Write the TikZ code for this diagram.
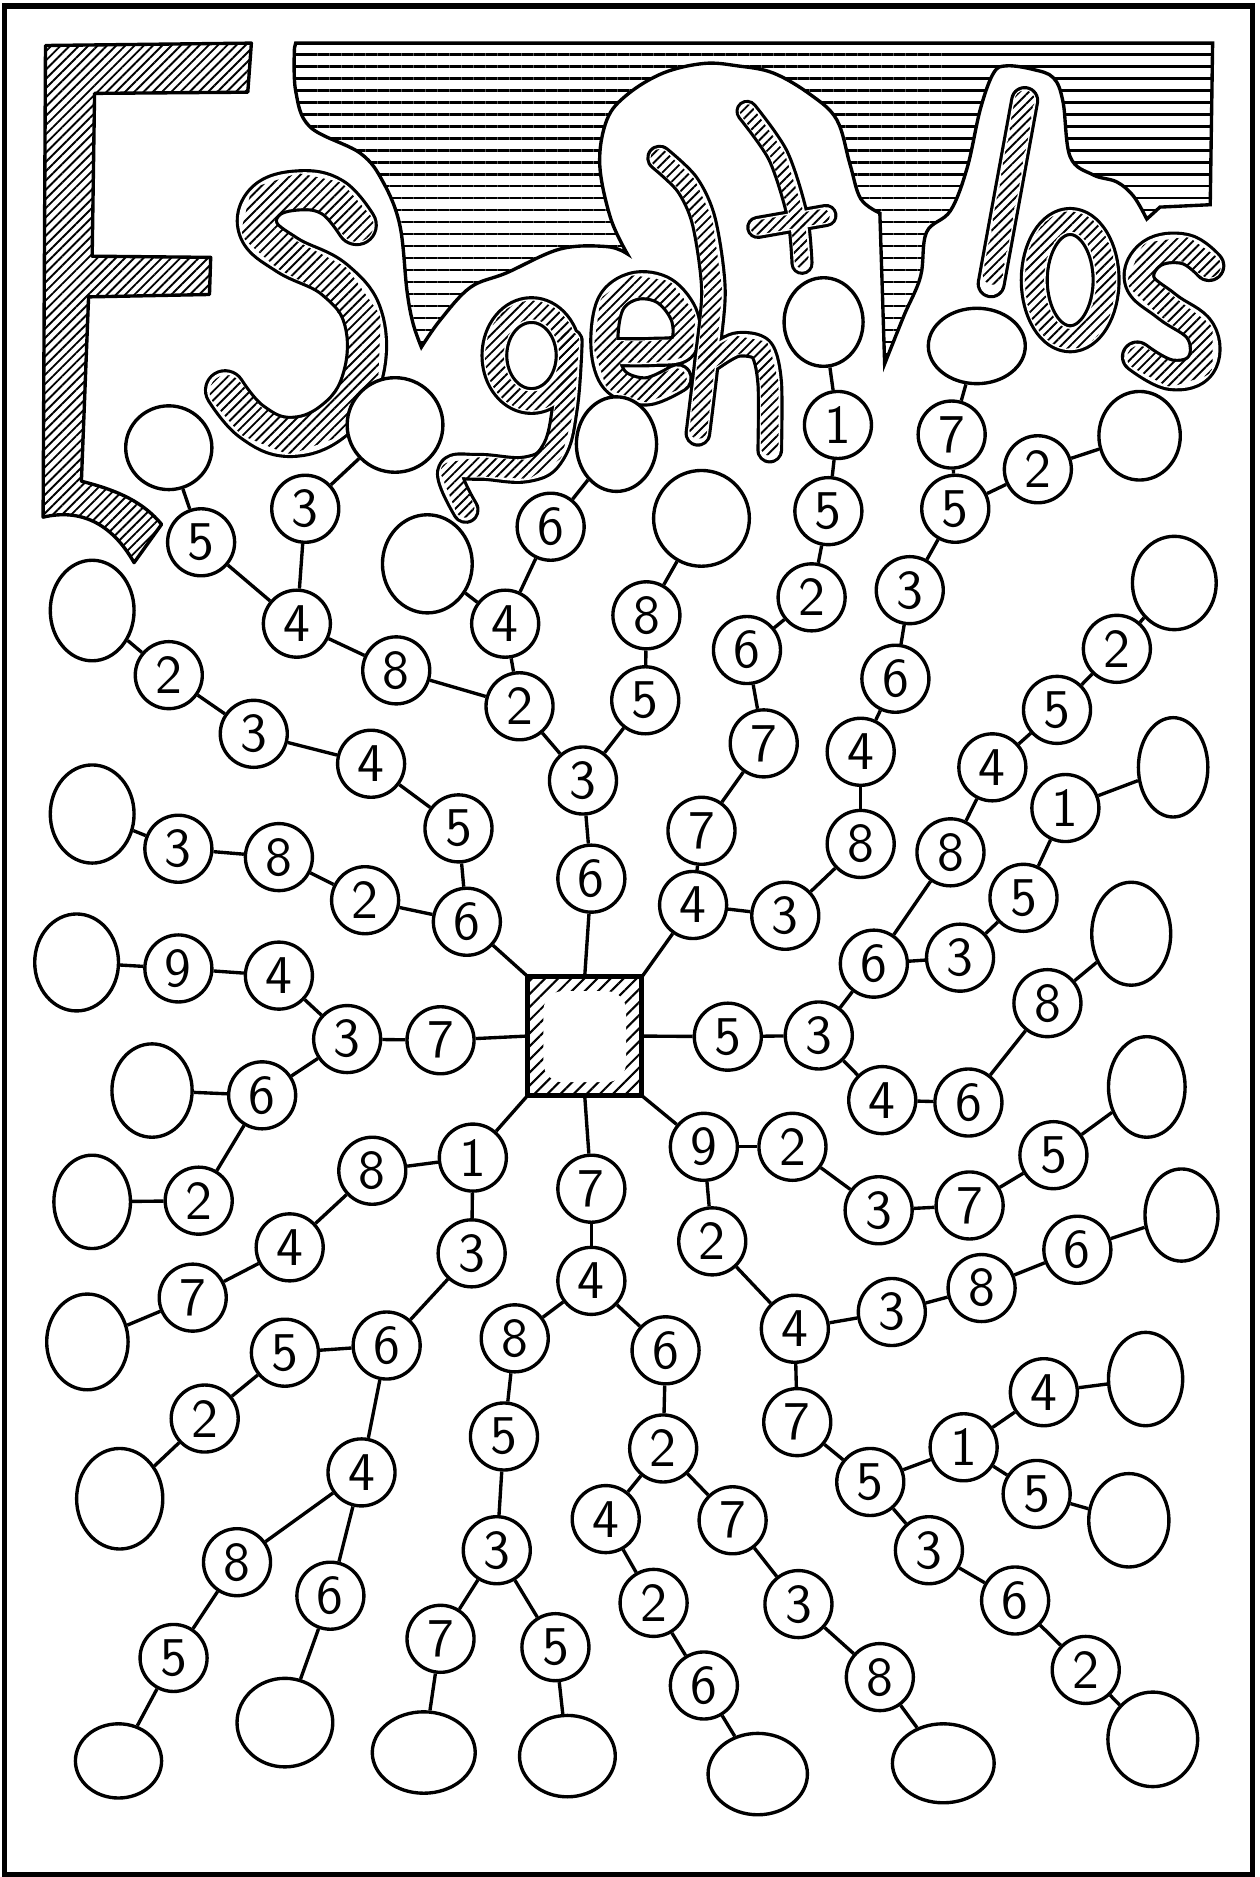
\documentclass[tikz,border=0pt]{standalone}
\usetikzlibrary{shapes.geometric, patterns.meta, calc}
% outline of the striped band behind the title
\newcommand{\bandoutline}{(247,36) -- plot[smooth, tension=0.6] coordinates {(246,40) (247,76) (259,106) (301,128) (320,152) (334,188) (340,243) (345,270) (352,290)}
  -- plot[smooth, tension=0.6] coordinates {(352,290) (368,267) (393,240) (423,228) (468,208) (507,206) (524,212)}
  -- plot[smooth, tension=0.6] coordinates {(524,212) (510,182) (501,137) (507,100) (524,79) (554,61) (588,53) (616,55) (646,61) (677,79) (699,100) (710,137) (719,166) (735,178)}
  -- plot[smooth, tension=0.6] coordinates {(735,178) (737,240) (739,304)}
  -- plot[smooth, tension=0.6] coordinates {(739,304) (755,264) (769,231) (774,194) (794,176) (808,140) (819,91) (830,61) (841,55) (863,58) (880,65) (888,85) (894,131) (913,146) (933,152) (947,164) (958,183)}
  -- (969,173) -- (1011,171) -- (1013,36) -- cycle}
% hatching inside a letter stroke: clip to discs along its centre line
\newcommand{\tubehatch}[4]{%
  \begin{scope}
    \clip foreach \x/\y [remember=\x as \lx (initially #2), remember=\y as \ly (initially #3)] in {#4}
      {foreach \t in {0,0.05,...,1} {($(\lx,\ly)!\t!(\x,\y)$) circle [radius=#1]}};
    \fill[letterhatch] (0,0) rectangle (1052,480);
  \end{scope}}
\newcommand{\ringhatch}[5]{%
  \begin{scope}
    \clip foreach \a in {0,8,...,352} {({#2+#4*cos(\a)},{#3+#5*sin(\a)}) circle [radius=#1]};
    \fill[letterhatch] (0,0) rectangle (1052,480);
  \end{scope}}
\begin{document}
\begin{tikzpicture}[x=0.1mm, y=-0.1mm,
  num/.style={circle, draw, fill=white, line width=0.8pt, minimum size=5.6mm,
              inner sep=0pt, font=\sffamily\fontsize{13}{15}\selectfont},
  leaf/.style 2 args={ellipse, draw, fill=white, line width=0.8pt,
              minimum width=#1*0.1mm, minimum height=#2*0.1mm, inner sep=0pt},
  hub/.style={rectangle, draw, line width=1.2pt, minimum width=9.5mm, minimum height=9.9mm,
              pattern={Lines[angle=45, distance=2.2pt, line width=0.5pt]}},
  link/.style={line width=0.8pt},
  band/.style={line width=0.8pt, pattern={Lines[angle=0, distance=2.85pt, line width=0.55pt]}},
  letterhatch/.style={pattern={Lines[angle=45, distance=1.55pt, line width=0.45pt]}},
  hatchfill/.style={draw, line width=0.8pt, line join=round, letterhatch},
  letter/.style={draw=white, line width=#1*0.1mm, line cap=round, line join=round,
              preaction={draw=black, line width=#1*0.1mm+1.5pt, line cap=round, line join=round}}
]
\useasboundingbox (0,0) rectangle (1052,1568);
% ----- frame -----
\draw[line width=1.2pt] (4,5) rectangle (1046,1566);
% ----- title -----
\draw[band] \bandoutline;
\draw[hatchfill] (38,38) -- (210,36) -- (207,77) -- (79,78) -- (77,214) -- (176,215)
  -- (175,246) -- (74,248) -- (68,402) .. controls (100,410) and (120,420) .. (135,438)
  -- (112,470) .. controls (95,440) and (70,424) .. (36,432) -- cycle;
% S
\draw[letter=30] plot[smooth, tension=0.7] coordinates {(298,188) (278,165) (250,159) (222,168)
  (216,192) (240,213) (280,234) (304,268) (302,318) (278,352) (242,365) (210,352) (188,326)};
\tubehatch{14}{298}{188}{278/165, 250/159, 222/168, 216/192, 240/213, 280/234, 304/268,
  302/318, 278/352, 242/365, 210/352, 188/326}
% g
\draw[letter=18] (444,297) ellipse [x radius=31, y radius=38]
  plot[smooth, tension=0.7] coordinates {(476,285) (472,340) (462,378) (440,392) (400,390) (376,394) (389,426)};
\ringhatch{8}{444}{297}{31}{38}
\tubehatch{8}{476}{285}{472/340, 462/378, 440/392, 400/390, 376/394, 389/426}
% e
\draw[letter=20] plot[smooth, tension=0.6] coordinates {(510,294) (545,294) (570,290) (572,265)
  (555,243) (530,239) (510,254) (505,290) (514,318) (540,327) (566,316)};
\tubehatch{9}{510}{294}{545/294, 570/290, 572/265, 555/243, 530/239, 510/254, 505/290,
  514/318, 540/327, 566/316}
% h
\draw[letter=17] plot[smooth] coordinates {(551,132) (574,154) (588,185) (596,243) (590,304) (583,362)}
  plot[smooth] coordinates {(594,300) (615,288) (636,292) (643,320) (643,376)};
\tubehatch{7.5}{551}{132}{574/154, 588/185, 596/243, 590/304, 583/362}
\tubehatch{7.5}{594}{300}{615/288, 636/292, 643/320, 643/376}
% t
\draw[letter=14] plot[smooth] coordinates {(624,93) (650,130) (666,180) (670,220)} (633,190) -- (690,180);
\tubehatch{6}{624}{93}{650/130, 666/180, 670/220}
\tubehatch{6}{633}{190}{690/180}
% l
\draw[letter=19] (856,84) -- (828,237);
\tubehatch{8.5}{856}{84}{828/237}
% o
\draw[letter=19] (894,234) ellipse [x radius=30, y radius=49];
\ringhatch{8.5}{894}{234}{30}{49}
% s
\draw[letter=22] plot[smooth, tension=0.7] coordinates {(1010,222) (990,208) (962,212) (952,235)
  (975,256) (1003,277) (1003,305) (978,313) (950,298)};
\tubehatch{10}{1010}{222}{990/208, 962/212, 952/235, 975/256, 1003/277, 1003/305, 978/313, 950/298}
% ----- hub -----
\node[hub] (hub) at (488.5,865.5) {};
\fill[white, rounded corners=1.6mm] (454,828) rectangle (523,904);
% ----- branch up -----
\node[num] (u1) at (494,734) {6};
\node[num] (u2) at (487,652) {3};
\node[num] (u3) at (434,590) {2};
\node[num] (u4) at (539,585) {5};
\node[num] (u5) at (540,514) {8};
\node[leaf={80}{80}] (lu1) at (586,433) {};
\node[num] (u6) at (422,521) {4};
\node[num] (u7) at (460,440) {6};
\node[leaf={67}{79}] (lu2) at (515,371) {};
\node[leaf={75}{82}] (lu3) at (357,471) {};
\node[num] (u8) at (331,560) {8};
\node[num] (u9) at (248,521) {4};
\node[num] (u10) at (255,425) {3};
\node[leaf={80}{79}] (lu4) at (330,355) {};
\node[num] (u11) at (168,453) {5};
\node[leaf={72}{70}] (lu5) at (141,374) {};
% ----- branch upper left -----
\node[num] (a1) at (390,770) {6};
\node[num] (a2) at (383,692) {5};
\node[num] (a3) at (310,638) {4};
\node[num] (a4) at (212,613) {3};
\node[num] (a5) at (141,564) {2};
\node[leaf={70}{84}] (la1) at (77,510) {};
\node[num] (a6) at (305,752) {2};
\node[num] (a7) at (233,716) {8};
\node[num] (a8) at (149,709) {3};
\node[leaf={70}{82}] (la2) at (77,680) {};
% ----- branch left -----
\node[num] (b1) at (368,869) {7};
\node[num] (b2) at (290,868) {3};
\node[num] (b3) at (233,815) {4};
\node[num] (b4) at (149,809) {9};
\node[leaf={70}{81}] (lb1) at (64,804) {};
\node[num] (b5) at (219,915) {6};
\node[leaf={67}{78}] (lb2) at (127,911) {};
\node[num] (b6) at (166,1003) {2};
\node[leaf={64}{78}] (lb3) at (77,1004) {};
% ----- branch lower left -----
\node[num] (d1) at (395,967) {1};
\node[num] (d2) at (311,978) {8};
\node[num] (d3) at (242,1042) {4};
\node[num] (d4) at (161,1084) {7};
\node[leaf={68}{80}] (ld1) at (73,1121) {};
\node[num] (d5) at (394,1047) {3};
\node[num] (d6) at (323,1124) {6};
\node[num] (d7) at (238,1130) {5};
\node[num] (d8) at (171,1185) {2};
\node[leaf={72}{84}] (ld2) at (100,1252) {};
\node[num] (d9) at (302,1230) {4};
\node[num] (d10) at (198,1305) {8};
\node[num] (d11) at (145,1385) {5};
\node[leaf={72}{62}] (ld3) at (99,1471) {};
\node[num] (d12) at (276,1333) {6};
\node[leaf={80}{74}] (ld4) at (238,1439) {};
% ----- branch down -----
\node[num] (e1) at (494,993) {7};
\node[num] (e2) at (494,1070) {4};
\node[num] (e3) at (430,1118) {8};
\node[num] (e4) at (421,1200) {5};
\node[num] (e5) at (415,1295) {3};
\node[num] (e6) at (368,1369) {7};
\node[leaf={86}{68}] (le1) at (354,1464) {};
\node[num] (e7) at (464,1376) {5};
\node[leaf={80}{68}] (le2) at (474,1467) {};
\node[num] (e8) at (556,1128) {6};
\node[num] (e9) at (554,1210) {2};
\node[num] (e10) at (506,1269) {4};
\node[num] (e11) at (546,1339) {2};
\node[num] (e12) at (588,1408) {6};
\node[leaf={83}{68}] (le3) at (633,1482) {};
\node[num] (e13) at (612,1270) {7};
\node[num] (e14) at (667,1340) {3};
\node[num] (e15) at (735,1401) {8};
\node[leaf={85}{66}] (le4) at (788,1473) {};
% ----- branch lower right -----
\node[num] (f1) at (588,958) {9};
\node[num] (f2) at (662,958) {2};
\node[num] (f3) at (734,1011) {3};
\node[num] (f4) at (810,1007) {7};
\node[num] (f5) at (880,965) {5};
\node[leaf={64}{84}] (lf1) at (958,908) {};
\node[num] (f6) at (595,1037) {2};
\node[num] (f7) at (664,1110) {4};
\node[num] (f8) at (745,1096) {3};
\node[num] (f9) at (820,1076) {8};
\node[num] (f10) at (900,1044) {6};
\node[leaf={61}{77}] (lf2) at (987,1015) {};
\node[num] (f11) at (666,1188) {7};
\node[num] (f12) at (727,1238) {5};
\node[num] (f13) at (805,1209) {1};
\node[num] (f14) at (872,1163) {4};
\node[leaf={62}{78}] (lf3) at (957,1152) {};
\node[num] (f15) at (866,1248) {5};
\node[leaf={67}{78}] (lf4) at (943,1270) {};
\node[num] (f16) at (776,1295) {3};
\node[num] (f17) at (848,1337) {6};
\node[num] (f18) at (907,1395) {2};
\node[leaf={75}{79}] (lf5) at (963,1453) {};
% ----- branch right -----
\node[num] (r1) at (608,866) {5};
\node[num] (r2) at (684,865) {3};
\node[num] (r3) at (730,805) {6};
\node[num] (r4) at (802,800) {3};
\node[num] (r5) at (855,750) {5};
\node[num] (r6) at (890,675) {1};
\node[leaf={58}{83}] (lr1) at (980,641) {};
\node[num] (r7) at (794,712) {8};
\node[num] (r8) at (829,641) {4};
\node[num] (r9) at (883,593) {5};
\node[num] (r10) at (933,542) {2};
\node[leaf={70}{78}] (lr2) at (981,487) {};
\node[num] (r11) at (737,919) {4};
\node[num] (r12) at (809,921) {6};
\node[num] (r13) at (875,838) {8};
\node[leaf={66}{86}] (lr3) at (945,780) {};
% ----- branch upper right -----
\node[num] (g1) at (579,756) {4};
\node[num] (g2) at (586,694) {7};
\node[num] (g3) at (638,621) {7};
\node[num] (g4) at (624,543) {6};
\node[num] (g5) at (678,499) {2};
\node[num] (g6) at (692,427) {5};
\node[num] (g7) at (700,355) {1};
\node[leaf={66}{74}] (lg1) at (688,269) {};
\node[num] (g8) at (656,765) {3};
\node[num] (g9) at (719,705) {8};
\node[num] (g10) at (719,628) {4};
\node[num] (g11) at (748,567) {6};
\node[num] (g12) at (760,493) {3};
\node[num] (g13) at (798,425) {5};
\node[num] (g14) at (795,363) {7};
\node[leaf={81}{63}] (lg2) at (816,289) {};
\node[num] (g15) at (867,392) {2};
\node[leaf={68}{74}] (lg3) at (952,364) {};
% ----- connectors -----
\foreach \a/\b in {hub.north/u1, u1/u2, u2/u3, u2/u4, u4/u5, u5/lu1, u3/u6, u6/u7, u7/lu2,
    u6/lu3, u3/u8, u8/u9, u9/u10, u10/lu4, u9/u11, u11/lu5,
    hub.north west/a1, a1/a2, a2/a3, a3/a4, a4/a5, a5/la1, a1/a6, a6/a7, a7/a8, a8/la2,
    hub.west/b1, b1/b2, b2/b3, b3/b4, b4/lb1, b2/b5, b5/lb2, b5/b6, b6/lb3,
    hub.south west/d1, d1/d2, d2/d3, d3/d4, d4/ld1, d1/d5, d5/d6, d6/d7, d7/d8, d8/ld2,
    d6/d9, d9/d10, d10/d11, d11/ld3, d9/d12, d12/ld4,
    hub.south/e1, e1/e2, e2/e3, e3/e4, e4/e5, e5/e6, e6/le1, e5/e7, e7/le2, e2/e8, e8/e9,
    e9/e10, e10/e11, e11/e12, e12/le3, e9/e13, e13/e14, e14/e15, e15/le4,
    hub.south east/f1, f1/f2, f2/f3, f3/f4, f4/f5, f5/lf1, f1/f6, f6/f7, f7/f8, f8/f9,
    f9/f10, f10/lf2, f7/f11, f11/f12, f12/f13, f13/f14, f14/lf3, f13/f15, f15/lf4,
    f12/f16, f16/f17, f17/f18, f18/lf5,
    hub.east/r1, r1/r2, r2/r3, r3/r4, r4/r5, r5/r6, r6/lr1, r3/r7, r7/r8, r8/r9, r9/r10,
    r10/lr2, r2/r11, r11/r12, r12/r13, r13/lr3,
    hub.north east/g1, g1/g2, g2/g3, g3/g4, g4/g5, g5/g6, g6/g7, g7/lg1, g1/g8, g8/g9,
    g9/g10, g10/g11, g11/g12, g12/g13, g13/g14, g14/lg2, g13/g15, g15/lg3}
  \draw[link] (\a) -- (\b);
\end{tikzpicture}
\end{document}
